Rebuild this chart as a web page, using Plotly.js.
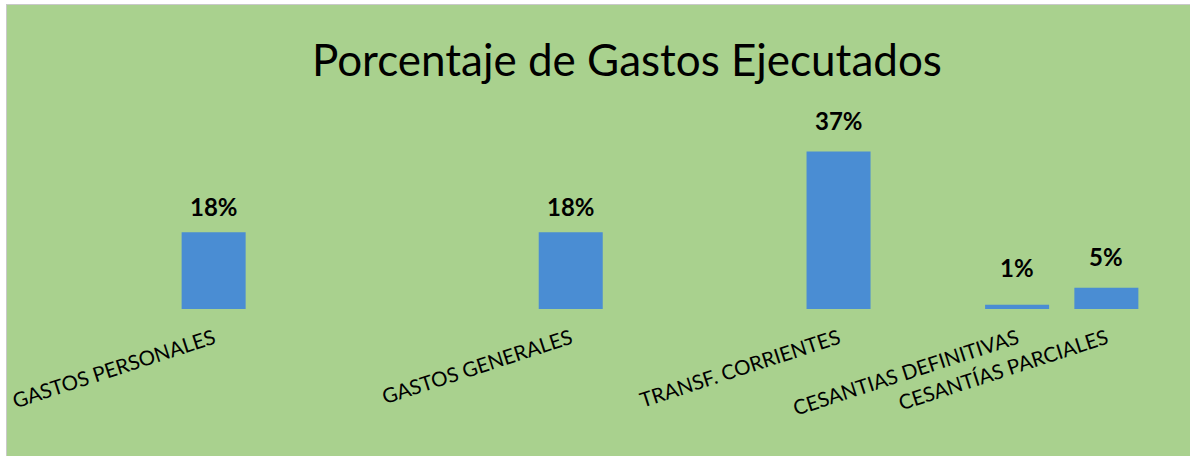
<!DOCTYPE html>
<html>
<head>
<meta charset="utf-8">
<script src="https://cdn.plot.ly/plotly-3.0.1.min.js"></script>
<style>
  html, body { margin: 0; padding: 0; background: #ffffff; width: 1190px; height: 456px; overflow: hidden; }
  #wrap { position: absolute; left: 6px; top: 4px; border-left: 1px solid #c9c9c9; border-top: 1px solid #c9c9c9; }
  #chart { width: 1183px; height: 451px; }
</style>
</head>
<body>
<div id="wrap"><div id="chart"></div></div>
<script>
// Categories (blank strings are empty rows of the source table)
const categories = [
  "GASTOS PERSONALES", " ", "  ", "   ",
  "GASTOS GENERALES", "    ", "     ",
  "TRANSF. CORRIENTES", "      ",
  "CESANTIAS DEFINITIVAS", "CESANTÍAS PARCIALES"
];
// Percentage executed
const values = [18, null, null, null, 18, null, null, 37, null, 1, 5];
const titleText = "Porcentaje de Gastos Ejecutados";

const FONT = "Lato, 'Open Sans', sans-serif";
const labelShift = [26, 0, 0, 0, 26, 0, 0, 31, 0, 37, 31];

const annotations = [];
categories.forEach((c, i) => {
  if (values[i] === null) return;
  annotations.push({
    x: c, y: values[i], xref: 'x', yref: 'y',
    text: values[i] + '%', showarrow: false,
    yanchor: 'middle', yshift: labelShift[i],
    font: { family: FONT, size: 24, color: '#000000', weight: 'bold' }
  });
});

const trace = {
  type: 'bar',
  x: categories,
  y: values,
  marker: { color: '#4a8dd3', line: { width: 0 } },
  hoverinfo: 'none'
};

const layout = {
  width: 1183, height: 451,
  paper_bgcolor: '#a9d18e',
  plot_bgcolor: 'rgba(0,0,0,0)',
  margin: { l: 162.4, r: 39.4, t: 100, b: 147, pad: 0 },
  bargap: 0.283,
  showlegend: false,
  title: {
    text: titleText,
    font: { family: FONT, size: 44, color: '#000000' },
    x: 0.524, xref: 'container', xanchor: 'center',
    y: 0.876, yref: 'container', yanchor: 'middle'
  },
  xaxis: {
    type: 'category',
    categoryorder: 'array', categoryarray: categories,
    tickangle: -18,
    tickfont: { family: FONT, size: 20.5, color: '#000000' },
    showgrid: false, zeroline: false, showline: false,
    ticks: '', ticklabelstandoff: 13,
    fixedrange: true
  },
  yaxis: {
    range: [0, 47.9],
    visible: false, showgrid: false, zeroline: false,
    fixedrange: true
  },
  annotations: annotations
};

Plotly.newPlot('chart', [trace], layout, { displayModeBar: false, staticPlot: true });
</script>
</body>
</html>
